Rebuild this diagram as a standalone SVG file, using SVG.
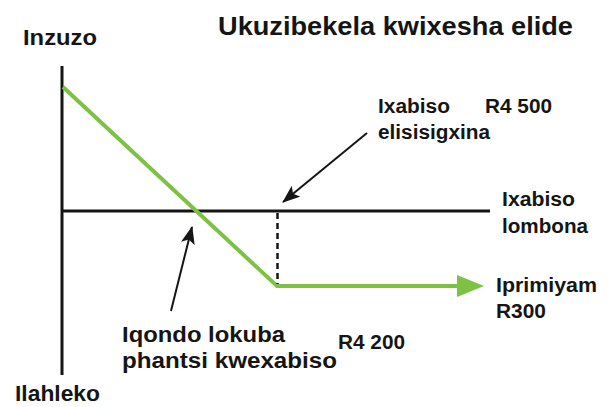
<svg xmlns="http://www.w3.org/2000/svg" width="609" height="407" viewBox="0 0 609 407">
<style>
text{font-family:"Liberation Sans",Arial,sans-serif;font-weight:bold;fill:#151515}
.t{font-size:26px}
.l{font-size:22px}
.s{font-size:20px}
.axis{stroke:#151515;stroke-width:3;fill:none}
.pay{stroke:#7DC243;stroke-width:4;fill:none;stroke-linejoin:miter}
.ptr{stroke:#151515;stroke-width:2;fill:none}
</style>
<defs>
<marker id="ah" markerUnits="userSpaceOnUse" markerWidth="18" markerHeight="14" refX="17" refY="7" orient="auto">
<path d="M0,0 L18,7 L0,14 L4,7 Z" fill="#151515"/>
</marker>
</defs>
<rect width="609" height="407" fill="#ffffff"/>
<g id="title"><text class="t" x="218" y="35" textLength="355" lengthAdjust="spacingAndGlyphs">Ukuzibekela kwixesha elide</text></g>
<g id="axes">
<line class="axis" x1="62" y1="66" x2="62" y2="375"/>
<line class="axis" x1="61" y1="211" x2="490" y2="211"/>
</g>
<g id="payoff">
<polyline class="pay" points="63,87 277,286 460,286"/>
<polygon points="457,275 484,286 457,297" fill="#7DC243"/>
</g>
<g id="connectors">
<line x1="277.5" y1="213" x2="277.5" y2="284" stroke="#151515" stroke-width="2.5" stroke-dasharray="6 4"/>
<line class="ptr" x1="367" y1="133" x2="283" y2="202" marker-end="url(#ah)"/>
<line class="ptr" x1="171" y1="311" x2="192" y2="227" marker-end="url(#ah)"/>
</g>
<g id="label-inzuzo"><text class="l" x="23" y="45" textLength="74" lengthAdjust="spacingAndGlyphs">Inzuzo</text></g>
<g id="label-ilahleko"><text class="l" x="15" y="401" textLength="85" lengthAdjust="spacingAndGlyphs">Ilahleko</text></g>
<g id="label-strike">
<text class="s" x="378" y="113" textLength="72" lengthAdjust="spacingAndGlyphs">Ixabiso</text>
<text class="s" x="378" y="139" textLength="112" lengthAdjust="spacingAndGlyphs">elisisigxina</text>
<text class="s" x="485" y="113" textLength="67" lengthAdjust="spacingAndGlyphs">R4 500</text>
</g>
<g id="label-price">
<text class="s" x="502" y="206" textLength="73" lengthAdjust="spacingAndGlyphs">Ixabiso</text>
<text class="s" x="502" y="233" textLength="86" lengthAdjust="spacingAndGlyphs">lombona</text>
</g>
<g id="label-premium">
<text class="s" x="496" y="292" textLength="101" lengthAdjust="spacingAndGlyphs">Iprimiyam</text>
<text class="s" x="496" y="318" textLength="50" lengthAdjust="spacingAndGlyphs">R300</text>
</g>
<g id="label-breakeven">
<text class="l" x="122" y="342" textLength="163" lengthAdjust="spacingAndGlyphs">Iqondo lokuba</text>
<text class="l" x="122" y="368" textLength="215" lengthAdjust="spacingAndGlyphs">phantsi kwexabiso</text>
<text class="s" x="338" y="349" textLength="67" lengthAdjust="spacingAndGlyphs">R4 200</text>
</g>
</svg>
